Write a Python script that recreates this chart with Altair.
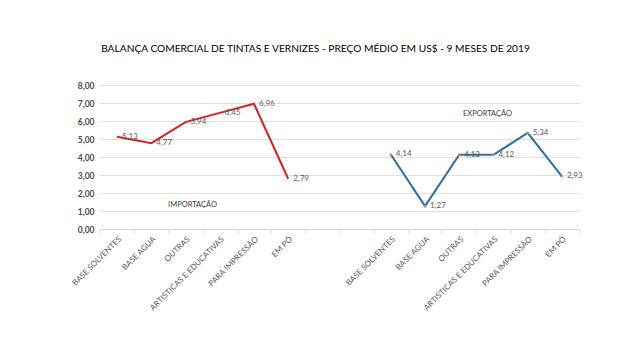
import altair as alt
import pandas as pd

categories = ["BASE SOLVENTES", "BASE AGUA", "OUTRAS", "ARTISTICAS E EDUCATIVAS",
              "PARA IMPRESSÃO", "EM PÓ"]
importacao = [5.13, 4.77, 5.94, 6.45, 6.96, 2.79]
exportacao = [4.14, 1.27, 4.13, 4.12, 5.34, 2.93]
slot_labels = categories + ["", ""] + categories

rows = []
for i, (c, v) in enumerate(zip(categories, importacao)):
    rows.append({"slot": i, "cat": c, "valor": v, "serie": "IMPORTAÇÃO"})
for i, (c, v) in enumerate(zip(categories, exportacao)):
    rows.append({"slot": i + 8, "cat": c, "valor": v, "serie": "EXPORTAÇÃO"})
df = pd.DataFrame(rows)
df["label"] = df["valor"].map(lambda v: f"{v:.2f}".replace(".", ","))

ann_imp = pd.DataFrame([{"slot": 2, "valor": 1.33, "txt": "IMPORTAÇÃO"}])
ann_exp = pd.DataFrame([{"slot": 11, "valor": 6.39, "txt": "EXPORTAÇÃO"}])

label_arr = "[" + ",".join("'" + s + "'" for s in slot_labels) + "]"

FONT = "Lato"
GREY = "#595959"

x = alt.X("slot:O", scale=alt.Scale(domain=list(range(14)), paddingInner=0, paddingOuter=0),
          axis=alt.Axis(title=None, labelExpr=label_arr + "[datum.value]", labelAngle=-45,
                        labelAlign="right", labelBaseline="top", labelFontSize=8,
                        labelColor=GREY, labelFont=FONT, labelPadding=2,
                        domainColor="#D9D9D9", tickColor="#D9D9D9", tickSize=4,
                        tickBand="extent", grid=False))
y = alt.Y("valor:Q", scale=alt.Scale(domain=[0, 8], nice=False),
          axis=alt.Axis(title=None, values=[0, 1, 2, 3, 4, 5, 6, 7, 8], labelOverlap=False,
                        labelExpr="replace(format(datum.value, '.2f'), '.', ',')",
                        labelFontSize=8.5, labelColor="#4a4a4a", labelFont=FONT,
                        labelFontWeight="bold",
                        domain=False, ticks=False, grid=True, gridColor="#E0E0E0",
                        labelPadding=6))

color = alt.Color("serie:N", scale=alt.Scale(domain=["IMPORTAÇÃO", "EXPORTAÇÃO"],
                                              range=["#D42027", "#2E6E9E"]), legend=None)

lines = alt.Chart(df).mark_line(strokeWidth=2).encode(color=color, detail="serie:N")
pts = alt.Chart(df).transform_filter("datum.serie == 'EXPORTAÇÃO'").mark_point(
    filled=True, size=8, color="#E8894A", opacity=0.8)
labels = alt.Chart(df).mark_text(align="left", baseline="middle", dx=5, fontSize=8,
                                 color=GREY, font=FONT).encode(text="label:N")
note_imp = alt.Chart(ann_imp).mark_text(fontSize=7.5, color="#404040", font=FONT, dx=7,
                                        align="center", baseline="middle").encode(text="txt:N")
note_exp = alt.Chart(ann_exp).mark_text(fontSize=7.5, color="#404040", font=FONT, dx=-6,
                                        align="center", baseline="middle").encode(text="txt:N")

chart = alt.layer(lines, pts, labels, note_imp, note_exp).encode(x=x, y=y).properties(
    width=479, height=144,
    background="white",
    autosize=alt.AutoSizeParams(type="none"),
    padding={"left": 92, "top": 77, "right": 53, "bottom": 123},
    title=alt.TitleParams("BALANÇA COMERCIAL DE TINTAS E VERNIZES - PREÇO MÉDIO EM US$ -  9 MESES DE 2019",
                          fontSize=10.2, font=FONT, fontWeight="normal", color="#000000",
                          anchor="middle", dx=-24, offset=27),
).configure_view(strokeWidth=0, stroke="transparent")

chart.save("out.html", embed_options={"renderer": "svg", "actions": False})
